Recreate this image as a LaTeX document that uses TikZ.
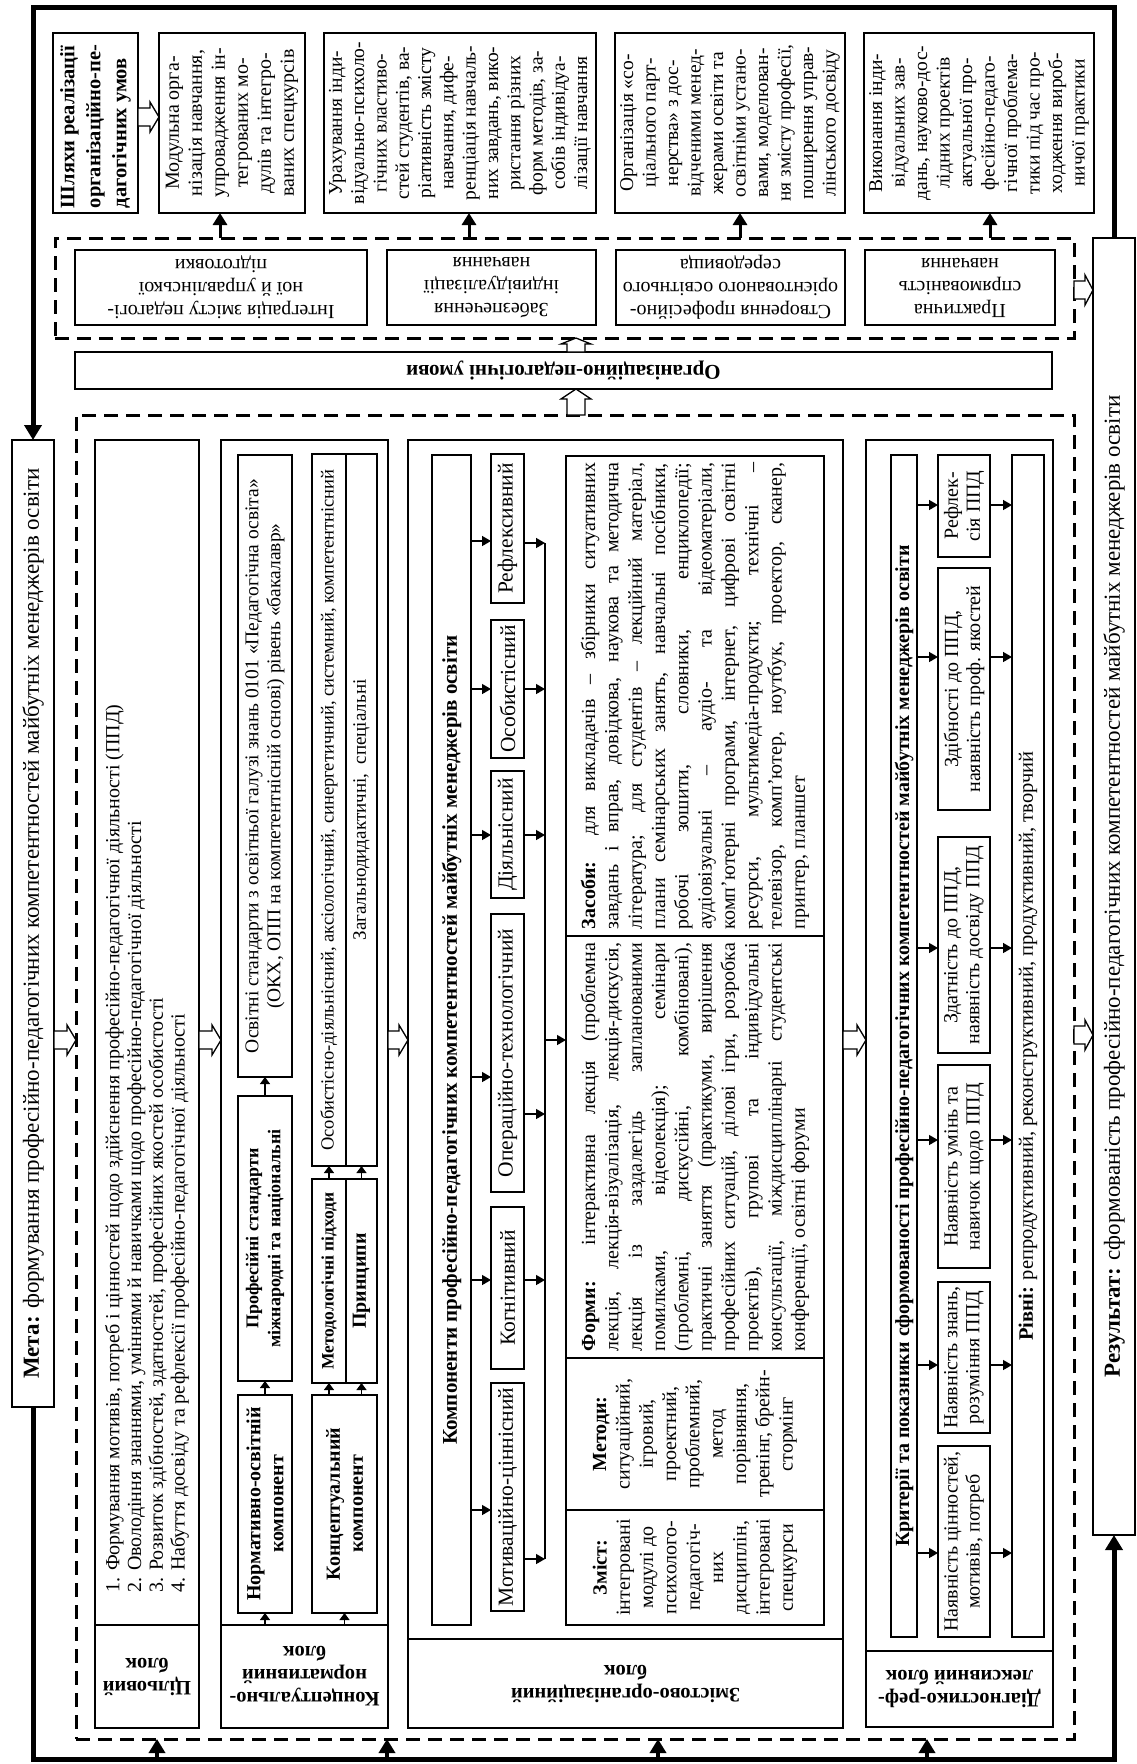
\documentclass[tikz,border=0pt]{standalone}
\usepackage{fontspec}
\setmainfont{Liberation Serif}
\usepackage{graphicx}
\usetikzlibrary{arrows.meta,calc}

\newcommand\fs[2]{\fontsize{#1}{#2}\selectfont}
\newcommand\VT[2]{\rotatebox{90}{\parbox{#1pt}{#2}}}
\newcommand\UT[2]{\rotatebox{180}{\parbox{#1pt}{#2}}}
\newcommand\JL[1]{\makebox[\linewidth][s]{#1}}
\newcommand\Bx[7]{\node[#1, anchor=north west, outer sep=0pt, inner sep=0pt, minimum width={(#5-#3)*1pt}, minimum height={(#6-#4)*1pt}] (#2) at (#3,#4) {#7};}

\tikzset{
  bx/.style={draw, line width=1.3pt},
  bxm/.style={draw, line width=1.7pt},
  thk/.style={draw, line width=2.8pt},
  dashbox/.style={draw, line width=3pt, dash pattern=on 14pt off 8pt},
  loopln/.style={line width=5pt, line join=miter},
  bigarr/.style={line width=4pt, -{Triangle[length=14pt,width=16pt]}},
  midarr/.style={line width=3pt, -{Triangle[length=12pt,width=14pt]}},
  smallarr/.style={line width=1.4pt, -{Triangle[length=9pt,width=10pt]}},
  tinyarr/.style={line width=1.2pt, -{Triangle[length=7pt,width=10pt]}},
  pics/harr/.style 2 args={code={\draw[line width=1.3pt, fill=white, line join=miter] (-#1,-9) -- ({#1-#2},-9) -- ({#1-#2},-15) -- (#1,0) -- ({#1-#2},15) -- ({#1-#2},9) -- (-#1,9) -- cycle;}},
}

\begin{document}
\begin{tikzpicture}[x=1pt,y=-1pt]
\useasboundingbox (0,0) rectangle (1136,1764);
\fill[white] (0,0) rectangle (1136,1764);

% ---------- goal and result ----------
\Bx{bxm}{meta}{12}{440}{54}{1407}{\VT{950}{\centering\fs{23}{26}\textbf{Мета:} формування професійно-педагогічних компетентностей майбутніх менеджерів освіти}}
\Bx{bxm}{res}{1093}{238}{1135}{1535}{\VT{1280}{\centering\fs{23}{26}\textbf{Результат:} сформованість професійно-педагогічних компетентностей майбутніх менеджерів освіти}}

% ---------- ways of realisation ----------
\Bx{thk}{shl}{53}{33}{138}{213}{\VT{170}{\fs{20.5}{26}\bfseries \mbox{Шляхи реалізації}\\\mbox{організаційно-пе-}\\\mbox{дагогічних умов}}}
\Bx{bxm}{mod}{159}{33}{305}{213}{\VT{172}{\centering\fs{20}{23}Модульна орга-\\нізація навчання,\\упровадження ін-\\тегрованих мо-\\дулів та інтегро-\\ваних спецкурсів}}
\Bx{bxm}{urah}{324}{33}{596}{213}{\VT{172}{\centering\fs{19.5}{22.3}Урахування інди-\\відуально-психоло-\\гічних властиво-\\стей студентів, ва-\\ріативність змісту\\навчання, дифе-\\ренціація навчаль-\\них завдань, вико-\\ристання різних\\форм методів, за-\\собів індивідуа-\\лізації навчання}}
\Bx{bxm}{org}{615}{33}{845}{213}{\VT{172}{\centering\fs{19.5}{22.5}Організація «со-\\ціального парт-\\нерства» з дос-\\відченими менед-\\жерами освіти та\\освітніми устано-\\вами, моделюван-\\ня змісту професії,\\поширення управ-\\лінського досвіду}}
\Bx{bxm}{vyk}{864}{33}{1094}{213}{\VT{172}{\centering\fs{19.5}{22.5}Виконання інди-\\відуальних зав-\\дань, науково-дос-\\лідних проектів\\актуальної про-\\фесійно-педаго-\\гічної проблема-\\тики під час про-\\ходження вироб-\\ничої практики}}

% ---------- organisational conditions ----------
\Bx{dashbox}{dashU}{55}{238}{1074}{338}{}
\Bx{bx}{integ}{75}{250}{367}{325}{\UT{285}{\centering\fs{20}{23}Інтеграція змісту педагогі-\\ної й управлінської\\підготовки}}
\Bx{bx}{zabez}{387}{250}{596}{325}{\UT{200}{\centering\fs{20}{23}Забезпечення\\індивідуалізації\\навчання}}
\Bx{bx}{stvor}{616}{250}{845}{325}{\UT{225}{\centering\fs{20}{23}Створення професійно-\\орієнтованого освітнього\\середовища}}
\Bx{bx}{prakt}{865}{250}{1055}{325}{\UT{185}{\centering\fs{20}{23}Практична\\спрямованість\\навчання}}
\Bx{bx}{opu}{75}{352}{1052}{389}{\UT{960}{\centering\fs{21}{24}\bfseries Організаційно-педагогічні умови}}

\draw[midarr] (dashU.north -| 220,0) -- (mod.south -| 220,0);
\draw[midarr] (dashU.north -| 469,0) -- (urah.south -| 469,0);
\draw[midarr] (dashU.north -| 740,0) -- (org.south -| 740,0);
\draw[midarr] (dashU.north -| 990,0) -- (vyk.south -| 990,0);

% ---------- model blocks ----------
\Bx{dashbox}{dashL}{76}{415}{1074}{1739}{}

% goal block
\Bx{thk}{cil}{95}{440}{199}{1625}{\VT{1120}{\raggedright\fs{20}{21.7}\mbox{1. Формування мотивів, потреб і цінностей щодо здійснення професійно-педагогічної діяльності (ППД)}\\\mbox{2. Оволодіння знаннями, уміннями й навичками щодо професійно-педагогічної діяльності}\\\mbox{3. Розвиток здібностей, здатностей, професійних якостей особистості}\\\mbox{4. Набуття досвіду та рефлексії професійно-педагогічної діяльності}}}
\Bx{thk}{cilL}{95}{1625}{199}{1728}{\UT{96}{\centering\fs{20.5}{23}\bfseries Цільовий\\блок}}

% conceptual-normative block
\Bx{thk}{kon}{221}{440}{388}{1625}{}
\Bx{thk}{konL}{221}{1625}{388}{1728}{\UT{162}{\centering\fs{20.5}{23}\bfseries \mbox{Концептуально-}\\нормативний\\блок}}
\Bx{bx}{osv}{238}{455}{292}{1077}{\VT{614}{\centering\fs{19.5}{22}\mbox{Освітні стандарти з освітньої галузі знань 0101 «Педагогічна освіта»}\\\mbox{(ОКХ, ОПП на компетентнісній основі) рівень «бакалавр»}}}
\Bx{bx}{prof}{238}{1096}{292}{1381}{\VT{280}{\centering\fs{18}{22}\bfseries \mbox{Професійні стандарти}\\\mbox{міжнародні та національні}}}
\Bx{bx}{norm}{238}{1395}{292}{1613}{\VT{214}{\centering\fs{20}{23}\bfseries \mbox{Нормативно-освітній}\\компонент}}
\Bx{bx}{apprL}{312}{454}{346}{1166}{\VT{706}{\centering\fs{18.5}{21}\mbox{Особистісно-діяльнісний, аксіологічний, синергетичний, системний, компетентнісний}}}
\Bx{bx}{apprR}{346}{454}{377}{1166}{\VT{706}{\centering\fs{19}{21}Загальнодидактичні,\ \ спеціальні}}
\Bx{bx}{metL}{312}{1179}{346}{1383}{\VT{200}{\centering\fs{17.5}{20}\bfseries \mbox{Методологічні підходи}}}
\Bx{bx}{metR}{346}{1179}{377}{1383}{\VT{200}{\centering\fs{20}{22}\bfseries Принципи}}
\Bx{bx}{konc}{312}{1395}{377}{1613}{\VT{214}{\centering\fs{20}{23}\bfseries \mbox{Концептуальний}\\компонент}}

\draw[tinyarr] (konL.north -| norm.south) -- (norm.south);
\draw[tinyarr] (norm.north) -- (prof.south);
\draw[tinyarr] (prof.north) -- (osv.south);
\draw[tinyarr] (konL.north -| konc.south) -- (konc.south);
\draw[tinyarr] (konc.north -| metL.south) -- (metL.south);
\draw[tinyarr] (konc.north -| metR.south) -- (metR.south);
\draw[tinyarr] (metL.north) -- (apprL.south);
\draw[tinyarr] (metR.north) -- (apprR.south);

% content-organisational block
\Bx{thk}{zmo}{408}{440}{843}{1639}{}
\Bx{thk}{zmoL}{408}{1639}{843}{1728}{\UT{420}{\centering\fs{20.5}{23}\bfseries Змістово-організаційний\\блок}}
\Bx{bxm}{komp}{432}{455}{471}{1625}{\VT{1160}{\centering\fs{21}{24}\bfseries Компоненти професійно-педагогічних компетентностей майбутніх менеджерів освіти}}
\Bx{bxm}{c6}{491}{454}{524}{603}{\VT{145}{\centering\fs{21.5}{24}\mbox{Рефлексивний}}}
\Bx{bxm}{c5}{491}{620}{524}{758}{\VT{134}{\centering\fs{21.5}{24}\mbox{Особистісний}}}
\Bx{bxm}{c4}{491}{771}{524}{898}{\VT{123}{\centering\fs{21.5}{24}\mbox{Діяльнісний}}}
\Bx{bxm}{c3}{491}{914}{524}{1192}{\VT{274}{\centering\fs{21.5}{24}\mbox{Операційно-технологічний}}}
\Bx{bxm}{c2}{491}{1207}{524}{1369}{\VT{158}{\centering\fs{21.5}{24}\mbox{Когнітивний}}}
\Bx{bxm}{c1}{491}{1383}{524}{1611}{\VT{224}{\centering\fs{21.5}{24}\mbox{Мотиваційно-ціннісний}}}

\Bx{bx}{zas}{566}{456}{824}{936}{\VT{466}{\fs{20}{23.3}\JL{\textbf{Засоби:} для викладачів – збірники ситуативних}\\\JL{завдань і вправ, довідкова, наукова та методична}\\\JL{література; для студентів – лекційний матеріал,}\\\JL{плани семінарських занять, навчальні посібники,}\\\JL{робочі зошити, словники, енциклопедії;}\\\JL{аудіовізуальні – аудіо- та відеоматеріали,}\\\JL{комп’ютерні програми, інтернет, цифрові освітні}\\\JL{ресурси, мультимедіа-продукти; технічні –}\\\JL{телевізор, комп’ютер, ноутбук, проектор, сканер,}\\принтер, планшет}}
\Bx{bx}{form}{566}{936}{824}{1358}{\VT{408}{\fs{20}{23.3}\JL{\textbf{Форми:} інтерактивна лекція (проблемна}\\\JL{лекція, лекція-візуалізація, лекція-дискусія,}\\\JL{лекція із заздалегідь запланованими}\\\JL{помилками, відеолекція); семінари}\\\JL{(проблемні, дискусійні, комбіновані),}\\\JL{практичні заняття (практикуми, вирішення}\\\JL{професійних ситуацій, ділові ігри, розробка}\\\JL{проектів), групові та індивідуальні}\\\JL{консультації, міждисциплінарні студентські}\\конференції, освітні форуми}}
\Bx{bx}{meth}{566}{1358}{824}{1510}{\VT{146}{\centering\fs{20}{23.3}\textbf{Методи:}\\ситуаційний,\\ігровий,\\проектний,\\проблемний,\\метод\\порівняння,\\\mbox{тренінг, брейн-}\\стормінг}}
\Bx{bx}{zmist}{566}{1510}{824}{1625}{\VT{110}{\centering\fs{20}{23.3}\textbf{Зміст:}\\інтегровані\\модулі до\\психолого-\\педагогіч-\\них\\дисциплін,\\інтегровані\\спецкурси}}
\Bx{bxm}{tab}{566}{456}{824}{1625}{}

\coordinate (vt) at (545,543);
\coordinate (vb) at (545,1559);
\coordinate (vm) at (545,1040);
\draw[line width=1.4pt] (vt) -- (vb);
\foreach \c/\yi/\yo in {c6/541/543, c5/689/689, c4/835/835, c3/1077/1114, c2/1280/1280, c1/1510/1559} {
  \draw[smallarr] (komp.east |- 0,\yi) -- (\c.west |- 0,\yi);
  \draw[smallarr] (\c.east |- 0,\yo) -- (vt |- 0,\yo);
}
\draw[smallarr] (vm) -- (tab.west |- vm);

% diagnostic-reflexive block
\Bx{thk}{diag}{866}{440}{1053}{1651}{}
\Bx{thk}{diagL}{866}{1651}{1053}{1727}{\UT{182}{\centering\fs{20.5}{23}\bfseries \mbox{Діагностико-реф-}\\\mbox{лексивний блок}}}
\Bx{bxm}{krit}{891}{455}{917}{1637}{\VT{1170}{\centering\fs{20}{23}\bfseries Критерії та показники сформованості професійно-педагогічних компетентностей майбутніх менеджерів освіти}}
\Bx{bxm}{k6}{938}{455}{990}{557}{\VT{98}{\centering\fs{20}{22}Рефлек-\\сія ППД}}
\Bx{bxm}{k5}{938}{568}{990}{810}{\VT{236}{\centering\fs{20}{22}\mbox{Здібності до ППД,}\\\mbox{наявність проф. якостей}}}
\Bx{bxm}{k4}{938}{837}{990}{1053}{\VT{210}{\centering\fs{20}{22}\mbox{Здатність до ППД,}\\\mbox{наявність досвіду ППД}}}
\Bx{bxm}{k3}{938}{1065}{990}{1268}{\VT{198}{\centering\fs{20}{22}\mbox{Наявність умінь та}\\\mbox{навичок щодо ППД}}}
\Bx{bxm}{k2}{938}{1282}{990}{1433}{\VT{146}{\centering\fs{20}{22}\mbox{Наявність знань,}\\\mbox{розуміння ППД}}}
\Bx{bxm}{k1}{938}{1446}{990}{1637}{\VT{186}{\centering\fs{20}{22}\mbox{Наявність цінностей,}\\\mbox{мотивів, потреб}}}
\Bx{bxm}{rivni}{1012}{455}{1044}{1637}{\VT{1170}{\centering\fs{20.5}{23}\textbf{Рівні:} репродуктивний, реконструктивний, продуктивний, творчий}}
\foreach \k/\yy in {k6/505, k5/657, k4/948, k3/1140, k2/1365, k1/1553} {
  \draw[smallarr] (krit.east |- 0,\yy) -- (\k.west |- 0,\yy);
  \draw[smallarr] (\k.east |- 0,\yy) -- (rivni.west |- 0,\yy);
}

% ---------- hollow arrows ----------
\path (shl.east |- 0,117) coordinate (h1a) (mod.west |- 0,117) coordinate (h1b);
\pic at ($(h1a)!0.5!(h1b)$) {harr={10.5}{9}};
\path (meta.east |- 0,1040) coordinate (h2a) (dashL.west |- 0,1040) coordinate (h2b);
\pic at ($(h2a)!0.5!(h2b)$) {harr={11}{9}};
\path (cil.east |- 0,1040) coordinate (h3a) (kon.west |- 0,1040) coordinate (h3b);
\pic at ($(h3a)!0.5!(h3b)$) {harr={11}{9}};
\path (kon.east |- 0,1040) coordinate (h4a) (zmo.west |- 0,1040) coordinate (h4b);
\pic at ($(h4a)!0.5!(h4b)$) {harr={10}{9}};
\path (zmo.east |- 0,1040) coordinate (h5a) (diag.west |- 0,1040) coordinate (h5b);
\pic at ($(h5a)!0.5!(h5b)$) {harr={11.5}{9}};
\path (dashL.east |- 0,1035) coordinate (h6a) (res.west |- 0,1035) coordinate (h6b);
\pic at ($(h6a)!0.5!(h6b)$) {harr={9.5}{8}};
\path (dashU.east |- 0,290) coordinate (h7a) (res.west |- 0,290) coordinate (h7b);
\pic at ($(h7a)!0.5!(h7b)$) {harr={9.5}{8}};
\path (dashL.north -| 576,0) coordinate (h8a) (opu.south -| 576,0) coordinate (h8b);
\pic[rotate=90] at ($(h8a)!0.5!(h8b)$) {harr={13}{10}};
\path (opu.north -| 576,0) coordinate (h9a) (dashU.south -| 576,0) coordinate (h9b);
\pic[rotate=90] at ($(h9a)!0.5!(h9b)$) {harr={7}{6}};

% ---------- feedback loop ----------
\coordinate (TL) at (33,7);
\coordinate (TR) at (1114,7);
\coordinate (BL) at (33,1759);
\coordinate (BR) at (1114,1759);
\draw[loopln, -{Triangle[length=15pt,width=17pt]}] (res.north) -- (TR) -- (TL) -- (meta.north);
\draw[loopln, -{Triangle[length=15pt,width=17pt]}] (meta.south) -- (BL) -- (BR) -- (res.south);
\foreach \xx in {157,387,658,927} {
  \draw[bigarr] (BL -| \xx,0) -- (dashL.south -| \xx,0);
}
\end{tikzpicture}
\end{document}
